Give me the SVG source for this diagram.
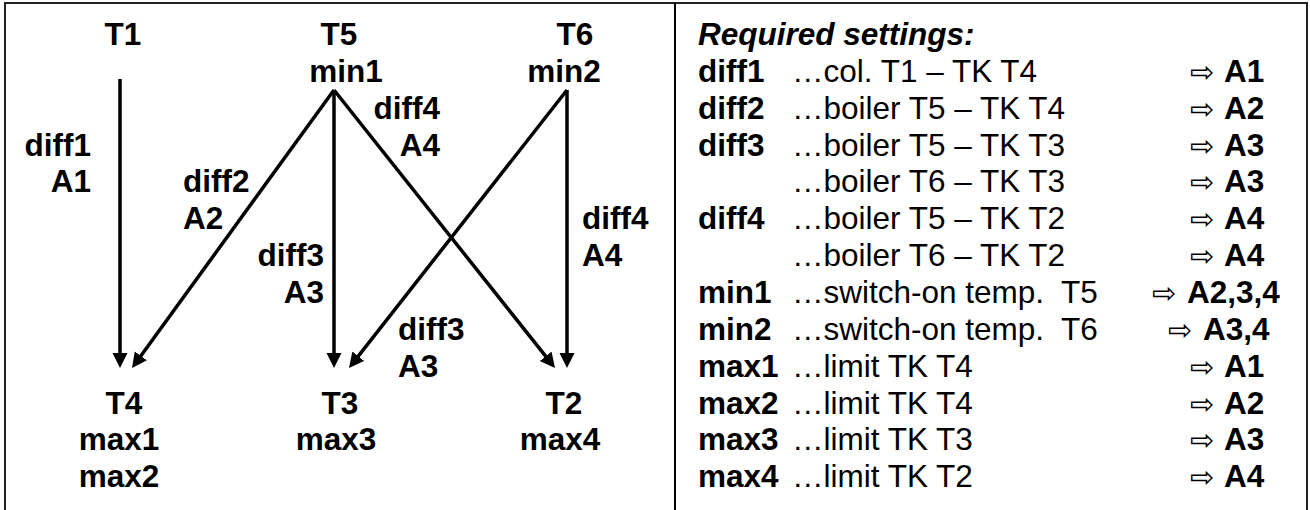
<svg xmlns="http://www.w3.org/2000/svg" width="1310" height="510" viewBox="0 0 1310 510">
<style>
text{font-family:"Liberation Sans",Arial,sans-serif;font-size:31.5px;fill:#000;white-space:pre}
.b{font-weight:bold}
.c{text-anchor:middle}
.e{text-anchor:end}
.bi{font-weight:bold;font-style:italic}
.ar{font-family:"DejaVu Sans",sans-serif;font-size:29px}
.ln{stroke:#000;stroke-width:3.5;fill:none;marker-end:url(#ah)}
</style>
<defs>
<marker id="ah" markerUnits="userSpaceOnUse" markerWidth="16" markerHeight="16" refX="5" refY="7.5" orient="auto">
<path d="M0,0 L15,7.5 L0,15 z" fill="#000"/>
</marker>
</defs>
<rect x="0" y="0" width="1310" height="510" fill="#fff"/>
<rect x="5" y="3" width="1302" height="510" fill="none" stroke="#222" stroke-width="2"/>
<line x1="675" y1="3" x2="675" y2="512" stroke="#000" stroke-width="2"/>

<g id="connectors">
<line class="ln" x1="120" y1="79" x2="120" y2="358"/>
<line class="ln" x1="334" y1="90" x2="137.88" y2="359.91"/>
<line class="ln" x1="334" y1="90" x2="334" y2="358"/>
<line class="ln" x1="334" y1="90" x2="548.78" y2="360.17"/>
<line class="ln" x1="567" y1="90" x2="355.17" y2="360.13"/>
<line class="ln" x1="567" y1="90" x2="567" y2="358"/>
<text class="b e" x="91" y="156">diff1</text>
<text class="b e" x="91" y="192">A1</text>
<text class="b" x="183" y="192">diff2</text>
<text class="b" x="183" y="229">A2</text>
<text class="b e" x="324" y="266">diff3</text>
<text class="b e" x="324" y="303">A3</text>
<text class="b e" x="440" y="119">diff4</text>
<text class="b e" x="440" y="156">A4</text>
<text class="b" x="582" y="229">diff4</text>
<text class="b" x="582" y="266">A4</text>
<text class="b" x="398" y="340">diff3</text>
<text class="b" x="398" y="377">A3</text>
</g>

<g id="node-T1"><text class="b c" x="123" y="45">T1</text></g>
<g id="node-T5"><text class="b c" x="339" y="45">T5</text><text class="b c" x="346" y="82">min1</text></g>
<g id="node-T6"><text class="b c" x="575" y="45">T6</text><text class="b c" x="564" y="82">min2</text></g>
<g id="node-T4"><text class="b c" x="124" y="414">T4</text><text class="b c" x="119" y="450">max1</text><text class="b c" x="119" y="487">max2</text></g>
<g id="node-T3"><text class="b c" x="340" y="414">T3</text><text class="b c" x="336" y="450">max3</text></g>
<g id="node-T2"><text class="b c" x="564" y="414">T2</text><text class="b c" x="560" y="450">max4</text></g>

<g id="settings">
<text class="bi" x="698" y="45">Required settings:</text>
<text class="b" x="698" y="82">diff1</text><text x="792" y="82">…col. T1 – TK T4</text><text class="ar" x="1190" y="82">⇨</text><text class="b" x="1224" y="82">A1</text>
<text class="b" x="698" y="119">diff2</text><text x="792" y="119">…boiler T5 – TK T4</text><text class="ar" x="1190" y="119">⇨</text><text class="b" x="1224" y="119">A2</text>
<text class="b" x="698" y="156">diff3</text><text x="792" y="156">…boiler T5 – TK T3</text><text class="ar" x="1190" y="156">⇨</text><text class="b" x="1224" y="156">A3</text>
<text x="792" y="192">…boiler T6 – TK T3</text><text class="ar" x="1190" y="192">⇨</text><text class="b" x="1224" y="192">A3</text>
<text class="b" x="698" y="229">diff4</text><text x="792" y="229">…boiler T5 – TK T2</text><text class="ar" x="1190" y="229">⇨</text><text class="b" x="1224" y="229">A4</text>
<text x="792" y="266">…boiler T6 – TK T2</text><text class="ar" x="1190" y="266">⇨</text><text class="b" x="1224" y="266">A4</text>
<text class="b" x="698" y="303">min1</text><text x="792" y="303">…switch-on temp.  T5</text><text class="ar" x="1152" y="303">⇨</text><text class="b" x="1187" y="303">A2,3,4</text>
<text class="b" x="698" y="340">min2</text><text x="792" y="340">…switch-on temp.  T6</text><text class="ar" x="1168" y="340">⇨</text><text class="b" x="1203" y="340">A3,4</text>
<text class="b" x="698" y="377">max1</text><text x="792" y="377">…limit TK T4</text><text class="ar" x="1190" y="377">⇨</text><text class="b" x="1224" y="377">A1</text>
<text class="b" x="698" y="414">max2</text><text x="792" y="414">…limit TK T4</text><text class="ar" x="1190" y="414">⇨</text><text class="b" x="1224" y="414">A2</text>
<text class="b" x="698" y="450">max3</text><text x="792" y="450">…limit TK T3</text><text class="ar" x="1190" y="450">⇨</text><text class="b" x="1224" y="450">A3</text>
<text class="b" x="698" y="487">max4</text><text x="792" y="487">…limit TK T2</text><text class="ar" x="1190" y="487">⇨</text><text class="b" x="1224" y="487">A4</text>
</g>
</svg>
